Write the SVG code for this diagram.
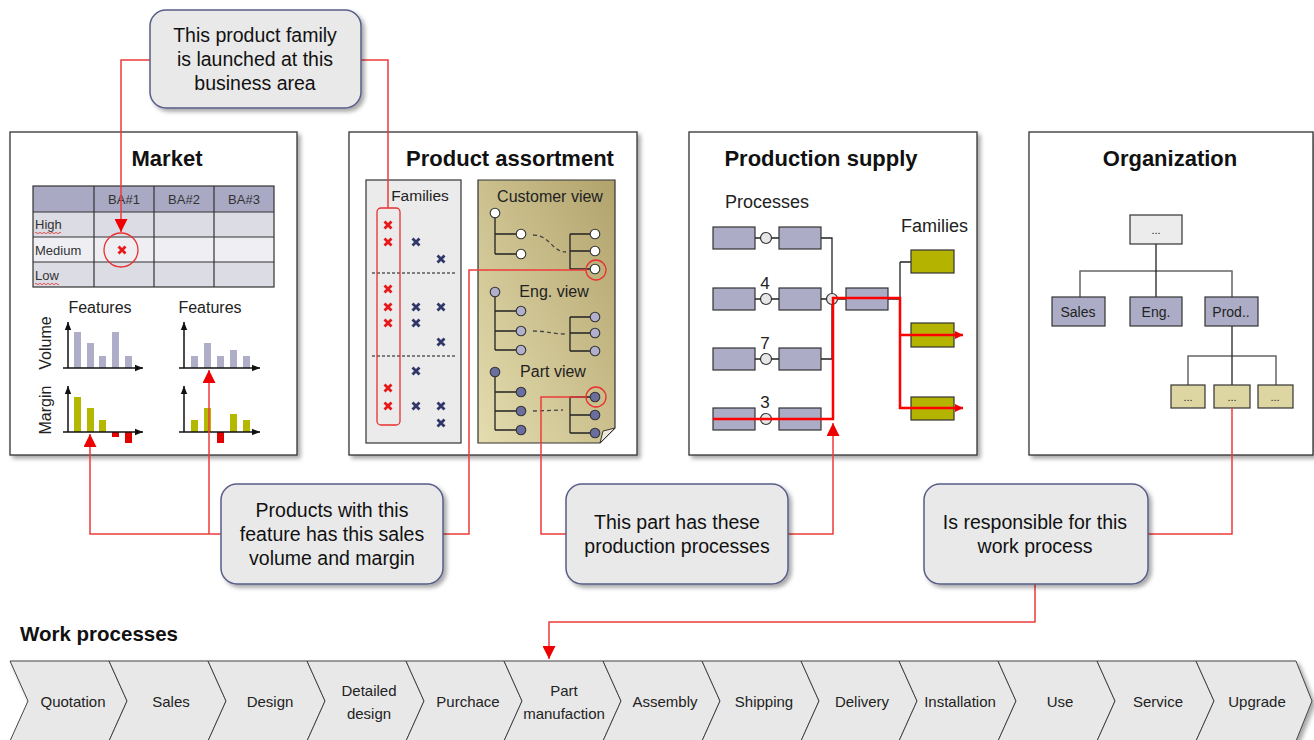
<svg xmlns="http://www.w3.org/2000/svg" width="1314" height="740" viewBox="0 0 1314 740">
<defs>
<style>
.panel{fill:#fff;stroke:#333;stroke-width:1.3;filter:url(#sh)}
.title{font-family:"Liberation Sans",Arial,sans-serif;font-weight:bold;font-size:22px;fill:#111;text-anchor:middle}
.t{font-family:"Liberation Sans",Arial,sans-serif;fill:#222}
.tbl{font-family:"Liberation Sans",Arial,sans-serif;font-size:13px;fill:#333}
.callout{fill:#e9e9e9;stroke:#585d88;stroke-width:1.5;filter:url(#sh)}
.ct{font-family:"Liberation Sans",Arial,sans-serif;font-size:19.5px;fill:#111;text-anchor:middle}
.red{fill:none;stroke:#ee3b3b;stroke-width:1.5}
.axis{fill:none;stroke:#111;stroke-width:1.5}
.vb{fill:#aeaec8}
.mb{fill:#b5b800}
.nb{fill:#e00000}
.pbox{fill:#acacc6;stroke:#333;stroke-width:1.2}
.fbox{fill:#b4b400;stroke:#333;stroke-width:1.2}
.pc{fill:#e6e6e6;stroke:#333;stroke-width:1.2}
.ln{fill:none;stroke:#222;stroke-width:1.3}
.gl{fill:none;stroke:#666;stroke-width:1.5}
.kbox{fill:#ddd6a3;stroke:#333;stroke-width:1.2}
.chev{fill:#e8e8e8;stroke:#444;stroke-width:1}
.cht{font-family:"Liberation Sans",Arial,sans-serif;font-size:15px;fill:#222;text-anchor:middle}
.rx{stroke:#e81818;stroke-width:2.8;fill:none}
.nx{stroke:#2f3668;stroke-width:2.8;fill:none}
</style>
<filter id="sh" x="-10%" y="-10%" width="120%" height="125%">
<feDropShadow dx="3" dy="3" stdDeviation="2" flood-color="#000" flood-opacity="0.35"/>
</filter>
<marker id="ra" viewBox="0 0 10 10" refX="10" refY="5" markerWidth="8" markerHeight="8" markerUnits="userSpaceOnUse" orient="auto">
<path d="M0,0 L10,5 L0,10 z" fill="#ee0000"/>
</marker>
<marker id="rab" viewBox="0 0 10 10" refX="10" refY="5" markerWidth="13" markerHeight="13" markerUnits="userSpaceOnUse" orient="auto">
<path d="M0,0 L10,5 L0,10 z" fill="#ee0000"/>
</marker>
<marker id="ba" viewBox="0 0 10 10" refX="10" refY="5" markerWidth="8" markerHeight="8" markerUnits="userSpaceOnUse" orient="auto">
<path d="M0,1 L10,5 L0,9 z" fill="#111"/>
</marker>
<linearGradient id="tan" x1="0" y1="1" x2="1" y2="0">
<stop offset="0" stop-color="#e4ddb0"/>
<stop offset="1" stop-color="#b2a36c"/>
</linearGradient>
<path id="x" d="M-3.5,-3.5 L3.5,3.5 M3.5,-3.5 L-3.5,3.5"/>
</defs>
<rect width="1314" height="740" fill="#fff"/>

<!-- Market -->
<g id="market">
<rect class="panel" x="10" y="132" width="287" height="323"/>
<text class="title" x="167" y="166">Market</text>
<rect x="33" y="186" width="241" height="26" fill="#a9a9c4"/>
<rect x="33" y="212" width="241" height="25" fill="#dcdce4"/>
<rect x="33" y="237" width="241" height="25" fill="#efeff3"/>
<rect x="33" y="262" width="241" height="25" fill="#dcdce4"/>
<g stroke="#333" stroke-width="1.2" fill="none">
<rect x="33" y="186" width="241" height="101"/>
<line x1="33" y1="212" x2="274" y2="212"/>
<line x1="33" y1="237" x2="274" y2="237"/>
<line x1="33" y1="262" x2="274" y2="262"/>
<line x1="94" y1="186" x2="94" y2="287"/>
<line x1="154" y1="186" x2="154" y2="287"/>
<line x1="214" y1="186" x2="214" y2="287"/>
</g>
<text class="tbl" x="124" y="204" text-anchor="middle">BA#1</text>
<text class="tbl" x="184" y="204" text-anchor="middle">BA#2</text>
<text class="tbl" x="244" y="204" text-anchor="middle">BA#3</text>
<text class="tbl" x="35" y="229">High</text>
<text class="tbl" x="35" y="255">Medium</text>
<text class="tbl" x="35" y="280">Low</text>
<path d="M35,233 q1,-1.5 2,0 t2,0 t2,0 t2,0 t2,0 t2,0 t2,0 t2,0 t2,0 t2,0 t2,0 t2,0 t2,0" stroke="#e03030" stroke-width="0.8" fill="none"/>
<path d="M35,284 q1,-1.5 2,0 t2,0 t2,0 t2,0 t2,0 t2,0 t2,0 t2,0 t2,0 t2,0 t2,0 t2,0" stroke="#e03030" stroke-width="0.8" fill="none"/>
<circle cx="121" cy="250" r="17" fill="none" stroke="#e83030" stroke-width="1.3"/>
<use href="#x" class="rx" x="122" y="250"/>
<text class="t" x="100" y="313" font-size="16" text-anchor="middle">Features</text>
<text class="t" x="210" y="313" font-size="16" text-anchor="middle">Features</text>
<text class="t" font-size="16" text-anchor="middle" transform="translate(51,343) rotate(-90)">Volume</text>
<text class="t" font-size="16" text-anchor="middle" transform="translate(51,410) rotate(-90)">Margin</text>
<rect class="vb" x="74" y="332" width="7" height="36"/>
<rect class="vb" x="87" y="343" width="7" height="25"/>
<rect class="vb" x="99" y="356" width="7" height="12"/>
<rect class="vb" x="112" y="332" width="7" height="36"/>
<rect class="vb" x="125" y="356" width="7" height="12"/>
<path class="axis" d="M68,368 V322" marker-end="url(#ba)"/>
<path class="axis" d="M63,368 H143" marker-end="url(#ba)"/>
<rect class="mb" x="74" y="397" width="7" height="35"/>
<rect class="mb" x="87" y="408" width="7" height="24"/>
<rect class="mb" x="99" y="420" width="7" height="12"/>
<rect class="nb" x="112" y="432" width="7" height="5"/>
<rect class="nb" x="125" y="432" width="7" height="11"/>
<path class="axis" d="M68,432 V386" marker-end="url(#ba)"/>
<path class="axis" d="M63,432 H143" marker-end="url(#ba)"/>
<rect class="vb" x="191" y="356" width="7" height="12"/>
<rect class="vb" x="204" y="343" width="7" height="25"/>
<rect class="vb" x="217" y="356" width="7" height="12"/>
<rect class="vb" x="230" y="350" width="7" height="18"/>
<rect class="vb" x="243" y="356" width="7" height="12"/>
<path class="axis" d="M184,368 V322" marker-end="url(#ba)"/>
<path class="axis" d="M179,368 H260" marker-end="url(#ba)"/>
<rect class="mb" x="191" y="420" width="7" height="12"/>
<rect class="mb" x="204" y="408" width="7" height="24"/>
<rect class="nb" x="217" y="432" width="7" height="11"/>
<rect class="mb" x="230" y="414" width="7" height="18"/>
<rect class="mb" x="243" y="420" width="7" height="12"/>
<path class="axis" d="M184,432 V386" marker-end="url(#ba)"/>
<path class="axis" d="M179,432 H260" marker-end="url(#ba)"/>
</g>

<!-- Product assortment -->
<g id="product-assortment">
<rect class="panel" x="349" y="132" width="288" height="323"/>
<text class="title" x="510" y="166">Product assortment</text>
<rect x="366" y="180" width="95" height="263" fill="#ebebeb" stroke="#333" stroke-width="1.2"/>
<text class="t" x="420" y="201" font-size="15.5" text-anchor="middle">Families</text>
<line x1="372" y1="273" x2="455" y2="273" stroke="#111" stroke-dasharray="3,2"/>
<line x1="372" y1="356" x2="455" y2="356" stroke="#111" stroke-dasharray="3,2"/>
<rect x="377" y="208" width="23" height="217" rx="4" fill="none" stroke="#e83030" stroke-width="1.3"/>
<use href="#x" class="rx" x="388" y="225"/>
<use href="#x" class="rx" x="388" y="242"/>
<use href="#x" class="rx" x="388" y="289"/>
<use href="#x" class="rx" x="388" y="307"/>
<use href="#x" class="rx" x="388" y="323"/>
<use href="#x" class="rx" x="388" y="388"/>
<use href="#x" class="rx" x="388" y="406"/>
<use href="#x" class="nx" x="416" y="242"/>
<use href="#x" class="nx" x="416" y="307"/>
<use href="#x" class="nx" x="416" y="323"/>
<use href="#x" class="nx" x="416" y="371"/>
<use href="#x" class="nx" x="416" y="406"/>
<use href="#x" class="nx" x="441" y="259"/>
<use href="#x" class="nx" x="441" y="307"/>
<use href="#x" class="nx" x="441" y="342"/>
<use href="#x" class="nx" x="441" y="406"/>
<use href="#x" class="nx" x="441" y="423"/>
<path d="M478,180 H615 V428 L600,443 H478 Z" fill="url(#tan)" stroke="#333" stroke-width="1.2"/>
<path d="M615,428 L600,443 L603,431 Z" fill="#eeeadb" stroke="#333" stroke-width="1"/>
<text class="t" x="550" y="202" font-size="16" text-anchor="middle">Customer view</text>
<text class="t" x="554" y="297" font-size="16" text-anchor="middle">Eng. view</text>
<text class="t" x="553" y="377" font-size="16" text-anchor="middle">Part view</text>
<g class="ln">
<path d="M495,213 V254 M495,234 H521 M495,254 H521 M570,234 V269 M570,234 H595 M570,251 H595 M570,269 H595"/>
<path d="M495,292 V350 M495,311 H521 M495,331 H521 M495,350 H521 M570,317 V351 M570,317 H595 M570,333 H595 M570,351 H595"/>
<path d="M495,372 V430 M495,392 H521 M495,411 H521 M495,430 H521 M570,397 V433 M570,397 H595 M570,415 H595 M570,433 H595"/>
</g>
<g fill="none" stroke="#444" stroke-width="1.3" stroke-dasharray="4,3">
<path d="M533,235 C550,235 552,252 566,252"/>
<path d="M533,331 C548,331 552,334 566,334"/>
<path d="M533,411 L563,410"/>
</g>
<g fill="#fff" stroke="#333" stroke-width="1.1">
<circle cx="495" cy="213" r="4.8"/><circle cx="521" cy="234" r="4.8"/><circle cx="521" cy="254" r="4.8"/>
<circle cx="595" cy="234" r="4.8"/><circle cx="595" cy="251" r="4.8"/><circle cx="595" cy="269" r="4.8"/>
</g>
<g fill="#b0b0cc" stroke="#333" stroke-width="1.1">
<circle cx="495" cy="292" r="4.8"/><circle cx="521" cy="311" r="4.8"/><circle cx="521" cy="331" r="4.8"/><circle cx="521" cy="350" r="4.8"/>
<circle cx="595" cy="317" r="4.8"/><circle cx="595" cy="333" r="4.8"/><circle cx="595" cy="351" r="4.8"/>
</g>
<g fill="#6a6e9e" stroke="#333" stroke-width="1.1">
<circle cx="495" cy="372" r="4.8"/><circle cx="521" cy="392" r="4.8"/><circle cx="521" cy="411" r="4.8"/><circle cx="521" cy="430" r="4.8"/>
<circle cx="595" cy="397" r="4.8"/><circle cx="595" cy="415" r="4.8"/><circle cx="595" cy="433" r="4.8"/>
</g>
<circle cx="596" cy="270" r="10" fill="none" stroke="#e83030" stroke-width="1.3"/>
<circle cx="596" cy="397" r="10" fill="none" stroke="#e83030" stroke-width="1.3"/>
</g>

<!-- Production supply -->
<g id="production-supply">
<rect class="panel" x="689" y="132" width="288" height="323"/>
<text class="title" x="821" y="166">Production supply</text>
<text class="t" x="725" y="208" font-size="18">Processes</text>
<text class="t" x="901" y="232" font-size="18">Families</text>
<text class="t" x="765" y="289" font-size="17" text-anchor="middle">4</text>
<text class="t" x="765" y="349" font-size="17" text-anchor="middle">7</text>
<text class="t" x="765" y="408" font-size="17" text-anchor="middle">3</text>
<g class="ln">
<path d="M755,238 H779 M755,299 H779 M755,359 H779 M755,419 H779"/>
<path d="M821,238 H832 V299 M821,299 H846 M821,359 H832 V299"/>
<path d="M888,299 H900 M900,262 H911 M900,262 V408"/>
</g>
<rect class="pbox" x="713" y="227" width="42" height="22"/><rect class="pbox" x="779" y="227" width="42" height="22"/>
<rect class="pbox" x="713" y="288" width="42" height="22"/><rect class="pbox" x="779" y="288" width="42" height="22"/>
<rect class="pbox" x="713" y="348" width="42" height="22"/><rect class="pbox" x="779" y="348" width="42" height="22"/>
<rect class="pbox" x="713" y="408" width="42" height="22"/><rect class="pbox" x="779" y="408" width="42" height="22"/>
<rect class="pbox" x="846" y="288" width="42" height="22"/>
<circle class="pc" cx="766" cy="238" r="5.5"/><circle class="pc" cx="766" cy="299" r="5.5"/>
<circle class="pc" cx="766" cy="359" r="5.5"/><circle class="pc" cx="766" cy="419" r="5.5"/>
<circle class="pc" cx="832" cy="299" r="5.5"/>
<rect class="fbox" x="911" y="250" width="43" height="23"/>
<rect class="fbox" x="911" y="323" width="43" height="24"/>
<rect class="fbox" x="911" y="397" width="43" height="23"/>
<path d="M713,419 H833 V298 H900 V408 H963" fill="none" stroke="#ff0000" stroke-width="2.5" marker-end="url(#ra)"/>
<path d="M900,335 H963" fill="none" stroke="#ff0000" stroke-width="2.5" marker-end="url(#ra)"/>
</g>

<!-- Organization -->
<g id="organization">
<rect class="panel" x="1029" y="132" width="284" height="323"/>
<text class="title" x="1170" y="166">Organization</text>
<path class="gl" d="M1080,297 V271 H1232 V297"/>
<path class="ln" d="M1156,244 V297"/>
<path class="gl" d="M1188,385 V356 H1276 V385"/>
<path class="ln" d="M1232,326 V385"/>
<rect x="1130" y="215" width="52" height="29" fill="#ececec" stroke="#333" stroke-width="1.2"/>
<text class="t" x="1156" y="234" font-size="11" fill="#667" text-anchor="middle">...</text>
<rect class="pbox" x="1052" y="297" width="53" height="29"/>
<rect class="pbox" x="1130" y="297" width="52" height="29"/>
<rect class="pbox" x="1205" y="297" width="53" height="29"/>
<text class="t" x="1078" y="317" font-size="14" text-anchor="middle">Sales</text>
<text class="t" x="1156" y="317" font-size="14" text-anchor="middle">Eng.</text>
<text class="t" x="1231" y="317" font-size="14" text-anchor="middle">Prod..</text>
<rect class="kbox" x="1171" y="385" width="34" height="23"/>
<rect class="kbox" x="1214" y="385" width="36" height="23"/>
<rect class="kbox" x="1258" y="385" width="35" height="23"/>
<text class="t" x="1188" y="401" font-size="11" fill="#667" text-anchor="middle">...</text>
<text class="t" x="1232" y="401" font-size="11" fill="#667" text-anchor="middle">...</text>
<text class="t" x="1275" y="401" font-size="11" fill="#667" text-anchor="middle">...</text>
</g>

<!-- Connectors -->
<g id="connectors">
<path class="red" d="M150,60 H121 V232" marker-end="url(#rab)"/>
<path class="red" d="M361,60 H388 V208"/>
<path class="red" d="M221,534 H90 V434" marker-end="url(#rab)"/>
<path class="red" d="M209,534 V370" marker-end="url(#rab)"/>
<path class="red" d="M443,534 H469 V270 H586"/>
<path class="red" d="M566,534 H541 V397 H586"/>
<path class="red" d="M788,534 H833 V423" marker-end="url(#rab)"/>
<path class="red" d="M1148,534 H1232 V408"/>
<path class="red" d="M1035,584 V622 H549 V659" marker-end="url(#rab)"/>
</g>

<!-- Callouts -->
<g id="callout-launch">
<rect class="callout" x="150" y="10" width="211" height="98" rx="16"/>
<text class="ct" x="255" y="42">This product family</text>
<text class="ct" x="255" y="66">is launched at this</text>
<text class="ct" x="255" y="90">business area</text>
</g>
<g id="callout-feature">
<rect class="callout" x="221" y="484" width="222" height="100" rx="16"/>
<text class="ct" x="332" y="517">Products with this</text>
<text class="ct" x="332" y="541">feature has this sales</text>
<text class="ct" x="332" y="565">volume and margin</text>
</g>
<g id="callout-part">
<rect class="callout" x="566" y="484" width="222" height="100" rx="16"/>
<text class="ct" x="677" y="529">This part has these</text>
<text class="ct" x="677" y="553">production processes</text>
</g>
<g id="callout-resp">
<rect class="callout" x="924" y="484" width="224" height="100" rx="16"/>
<text class="ct" x="1035" y="529">Is responsible for this</text>
<text class="ct" x="1035" y="553">work process</text>
</g>

<!-- Work processes -->
<g id="work-processes">
<text x="20" y="641" font-family="Liberation Sans,Arial,sans-serif" font-weight="bold" font-size="20.5" fill="#111">Work processes</text>
<g filter="url(#sh)">
<path class="chev" d="M10,661 H109 L127,701 L109,741 H10 L28,701 Z"/>
<path class="chev" d="M109,661 H208 L226,701 L208,741 H109 L127,701 Z"/>
<path class="chev" d="M208,661 H307 L325,701 L307,741 H208 L226,701 Z"/>
<path class="chev" d="M307,661 H406 L424,701 L406,741 H307 L325,701 Z"/>
<path class="chev" d="M406,661 H504 L522,701 L504,741 H406 L424,701 Z"/>
<path class="chev" d="M504,661 H603 L621,701 L603,741 H504 L522,701 Z"/>
<path class="chev" d="M603,661 H702 L720,701 L702,741 H603 L621,701 Z"/>
<path class="chev" d="M702,661 H801 L819,701 L801,741 H702 L720,701 Z"/>
<path class="chev" d="M801,661 H899 L917,701 L899,741 H801 L819,701 Z"/>
<path class="chev" d="M899,661 H998 L1016,701 L998,741 H899 L917,701 Z"/>
<path class="chev" d="M998,661 H1097 L1115,701 L1097,741 H998 L1016,701 Z"/>
<path class="chev" d="M1097,661 H1196 L1214,701 L1196,741 H1097 L1115,701 Z"/>
<path class="chev" d="M1196,661 H1296 L1312,701 L1296,741 H1196 L1214,701 Z"/>
</g>
<text class="cht" x="73" y="707">Quotation</text>
<text class="cht" x="171" y="707">Sales</text>
<text class="cht" x="270" y="707">Design</text>
<text class="cht" x="369" y="696">Detailed</text>
<text class="cht" x="369" y="719">design</text>
<text class="cht" x="468" y="707">Purchace</text>
<text class="cht" x="564" y="696">Part</text>
<text class="cht" x="564" y="719">manufaction</text>
<text class="cht" x="665" y="707">Assembly</text>
<text class="cht" x="764" y="707">Shipping</text>
<text class="cht" x="862" y="707">Delivery</text>
<text class="cht" x="960" y="707">Installation</text>
<text class="cht" x="1060" y="707">Use</text>
<text class="cht" x="1158" y="707">Service</text>
<text class="cht" x="1257" y="707">Upgrade</text>
</g>
</svg>
